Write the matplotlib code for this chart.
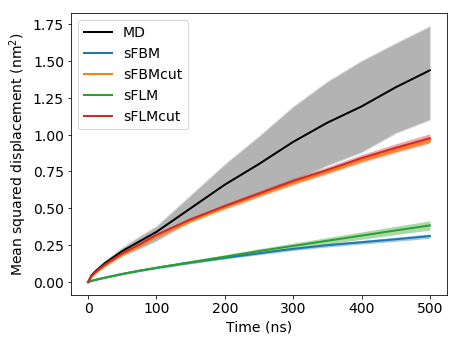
import matplotlib
matplotlib.use("Agg")
import matplotlib.pyplot as plt
import numpy as np

t = [0, 5, 10, 25, 50, 75, 100, 150, 200, 250, 300, 350, 400, 450, 500]

md = [0, 0.045, 0.07, 0.13, 0.21, 0.275, 0.34, 0.50, 0.66, 0.80, 0.95, 1.08, 1.19, 1.32, 1.435]
md_hi = [0, 0.05, 0.08, 0.145, 0.235, 0.31, 0.38, 0.59, 0.80, 0.99, 1.19, 1.36, 1.50, 1.62, 1.735]
md_lo = [0, 0.04, 0.06, 0.115, 0.18, 0.225, 0.28, 0.41, 0.51, 0.60, 0.69, 0.79, 0.88, 1.01, 1.10]

sfbm = [0, 0.008, 0.014, 0.03, 0.055, 0.077, 0.097, 0.133, 0.165, 0.195, 0.225, 0.25, 0.27, 0.29, 0.312]
sfbm_sd = [0, 0.001, 0.002, 0.003, 0.004, 0.005, 0.006, 0.008, 0.009, 0.010, 0.011, 0.012, 0.013, 0.014, 0.015]
sfbmcut = [0, 0.035, 0.058, 0.11, 0.185, 0.245, 0.31, 0.415, 0.505, 0.59, 0.672, 0.748, 0.826, 0.895, 0.962]
sfbmcut_sd = [0, 0.002, 0.003, 0.005, 0.007, 0.008, 0.009, 0.011, 0.013, 0.014, 0.015, 0.016, 0.018, 0.019, 0.02]
sflm = [0, 0.008, 0.014, 0.03, 0.055, 0.077, 0.097, 0.135, 0.172, 0.21, 0.245, 0.28, 0.315, 0.35, 0.384]
sflm_sd = [0, 0.001, 0.002, 0.003, 0.005, 0.006, 0.007, 0.010, 0.013, 0.016, 0.019, 0.022, 0.025, 0.028, 0.031]
sflmcut = [0, 0.04, 0.065, 0.12, 0.195, 0.255, 0.32, 0.425, 0.515, 0.60, 0.685, 0.76, 0.84, 0.91, 0.975]
sflmcut_sd = [0, 0.002, 0.003, 0.005, 0.007, 0.009, 0.011, 0.013, 0.015, 0.017, 0.019, 0.021, 0.024, 0.027, 0.03]

labels = ["MD", "sFBM", "sFBMcut", "sFLM", "sFLMcut"]
colors = ["black", "#1f77b4", "#ff7f0e", "#2ca02c", "#d62728"]

plt.rcParams['font.family'] = ['DejaVu Sans']
plt.rcParams['font.size'] = 14

fig = plt.figure(figsize=(6.4, 4.8), dpi=72)
ax = fig.add_axes([0.154, 0.145, 0.816, 0.815])

tt = np.array(t)
ax.fill_between(tt, md_lo, md_hi, facecolor="#b3b3b3", edgecolor="#dcdcdc", linewidth=1.0)
ax.plot(tt, md, color=colors[0], lw=2, label=labels[0])

series = [(sfbm, sfbm_sd), (sfbmcut, sfbmcut_sd), (sflm, sflm_sd), (sflmcut, sflmcut_sd)]
for (m, s), lab, c in zip(series, labels[1:], colors[1:]):
    m = np.array(m); s = np.array(s)
    ax.fill_between(tt, m - s, m + s, color=c, alpha=0.4, linewidth=0)
    ax.plot(tt, m, color=c, lw=2, label=lab)

ax.set_xlabel("Time (ns)")
ax.set_ylabel("Mean squared displacement (nm$^2$)")
ax.set_xticks([0, 100, 200, 300, 400, 500])
ax.set_yticks([0, 0.25, 0.5, 0.75, 1.0, 1.25, 1.5, 1.75])
ax.set_yticklabels(["0.00", "0.25", "0.50", "0.75", "1.00", "1.25", "1.50", "1.75"])
ax.legend(loc="upper left")

fig.savefig("out.png", dpi=72)
